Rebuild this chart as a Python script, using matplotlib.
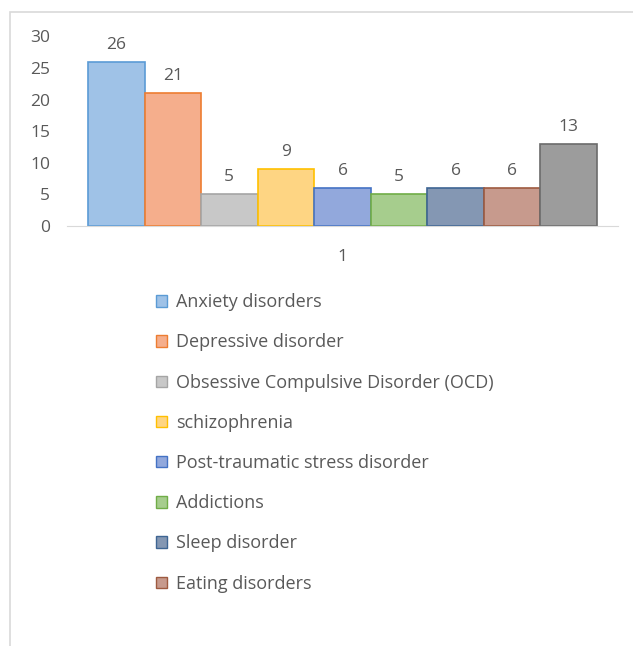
"""
Mental disorder counts, clustered column chart with legend below
"""
import matplotlib as mpl
import matplotlib.pyplot as plt
from matplotlib.patches import Patch, Rectangle
import numpy as np

mpl.rcParams['font.family'] = ['Open Sans', 'DejaVu Sans']

# data
disorders = ['Anxiety disorders', 'Depressive disorder',
             'Obsessive Compulsive Disorder (OCD)', 'schizophrenia',
             'Post-traumatic stress disorder', 'Addictions',
             'Sleep disorder', 'Eating disorders', '']
counts = [26, 21, 5, 9, 6, 5, 6, 6, 13]
fills = ['#9fc2e7', '#f5ae8c', '#c8c8c8', '#fed583', '#92a8dc',
         '#a6cd8d', '#8497b3', '#c79a8d', '#9c9c9c']
edges = ['#5b9bd5', '#ed7d31', '#a5a5a5', '#ffc000', '#4472c4',
         '#70ad47', '#3e6593', '#9e5a40', '#6b6b6b']
yticks = [0, 5, 10, 15, 20, 25, 30]
txt = '#595959'

W, H = 633, 646
fig = plt.figure(figsize=(W / 100, H / 100), dpi=100)

# chart frame (runs off the right and bottom of the picture)
fig.patches.append(Rectangle((10 / W, -0.1), 1.2, 1.1 - 12 / H,
                             transform=fig.transFigure, fill=False,
                             edgecolor='#d9d9d9', linewidth=1.2))

ax = fig.add_axes([67 / W, 1 - 226 / H, (618 - 67) / W, (226 - 36.4) / H])
x = np.arange(len(counts))
ax.bar(x, counts, width=1.0, color=fills, edgecolor=edges, linewidth=1.2)
for xi, v in zip(x, counts):
    ax.annotate(str(v), (xi, v), xytext=(0, 6.5), textcoords='offset points',
                ha='center', va='bottom', fontsize=12.5, color=txt)

ax.set_xlim(-0.5 - 0.37, len(counts) - 0.5 + 0.37)
ax.set_ylim(0, 30)
ax.set_yticks(yticks)
ax.set_xticks([4])
ax.set_xticklabels(['1'])
ax.tick_params(length=0, labelsize=12.5, colors=txt)
ax.tick_params(axis='x', pad=16.5)
ax.tick_params(axis='y', pad=12)
for s in ['top', 'right', 'left']:
    ax.spines[s].set_visible(False)
ax.spines['bottom'].set_color('#d9d9d9')

handles = [Patch(facecolor=f, edgecolor=e, linewidth=1.0)
           for f, e in zip(fills[:8], edges[:8])]
leg = fig.legend(handles, disorders[:8], loc='upper left',
                 bbox_to_anchor=(140 / W, 1 - 277 / H), frameon=False,
                 fontsize=13, labelcolor=txt, labelspacing=1.23,
                 handlelength=0.6, handleheight=0.6, handletextpad=0.5)

fig.savefig('out.png', dpi=100)
plt.close('all')
